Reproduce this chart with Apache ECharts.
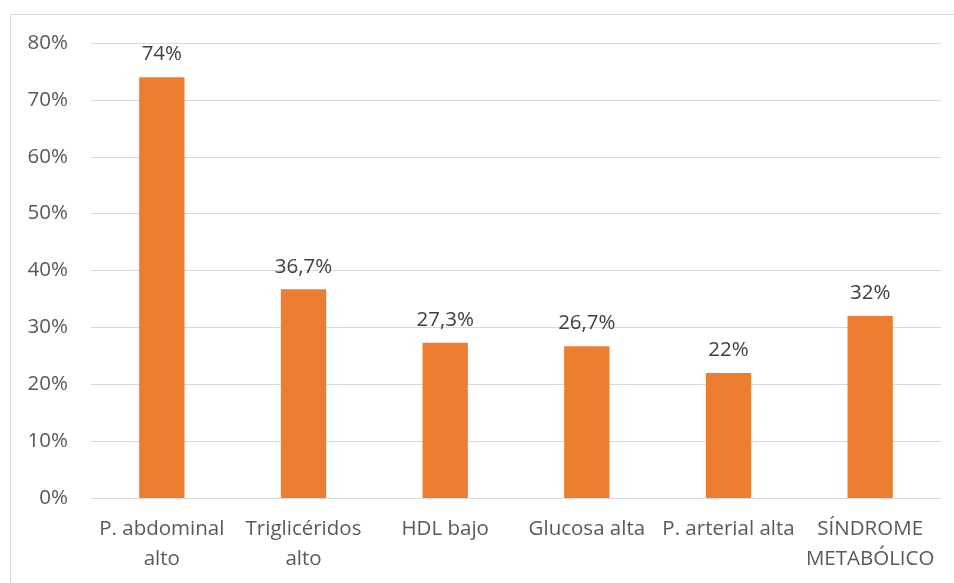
<!DOCTYPE html>
<html>
<head>
<meta charset="utf-8">
<style>
  html, body { margin: 0; padding: 0; background: #fff; }
  #chart { width: 954px; height: 583px; }
</style>
<script src="https://cdn.jsdelivr.net/npm/echarts@6/dist/echarts.min.js"></script>
</head>
<body>
<div id="chart"></div>
<script>
// Prevalence of metabolic syndrome components (%)
const categories = [
  'P. abdominal\nalto',
  'Triglicéridos\nalto',
  'HDL bajo',
  'Glucosa alta',
  'P. arterial alta',
  'SÍNDROME\nMETABÓLICO'
];
const values = [74, 36.7, 27.3, 26.7, 22, 32];
const yTicks = [0, 10, 20, 30, 40, 50, 60, 70, 80];

const fontFamily = '"Open Sans", sans-serif';
const textColor = '#595959';

const chart = echarts.init(document.getElementById('chart'), null, { renderer: 'canvas' });
chart.setOption({
  animation: false,
  backgroundColor: '#ffffff',
  graphic: [{
    type: 'rect',
    shape: { x: 10.5, y: 14.5, width: 960, height: 600 },
    style: { fill: 'none', stroke: '#d9d9d9', lineWidth: 1 },
    silent: true,
    z: -1
  }],
  grid: { left: 91, right: 13, top: 43, bottom: 85, containLabel: false },
  xAxis: {
    type: 'category',
    data: categories,
    axisTick: { show: false },
    axisLine: { lineStyle: { color: '#d9d9d9', width: 1 } },
    axisLabel: {
      color: textColor,
      fontSize: 20.5,
      fontFamily: fontFamily,
      lineHeight: 30,
      margin: 16,
      interval: 0
    }
  },
  yAxis: {
    type: 'value',
    min: yTicks[0],
    max: yTicks[yTicks.length - 1],
    interval: 10,
    axisLine: { show: false },
    axisTick: { show: false },
    splitLine: { lineStyle: { color: '#d9d9d9', width: 1 } },
    axisLabel: {
      color: textColor,
      fontSize: 20.5,
      fontFamily: fontFamily,
      margin: 23,
      formatter: v => v + '%'
    }
  },
  series: [{
    type: 'bar',
    data: values,
    barWidth: '32%',
    itemStyle: { color: '#ED7D31' },
    label: {
      show: true,
      position: 'top',
      distance: 12,
      color: '#404040',
      fontSize: 20.5,
      fontFamily: fontFamily,
      formatter: p => String(p.value).replace('.', ',') + '%'
    }
  }]
});
</script>
</body>
</html>
